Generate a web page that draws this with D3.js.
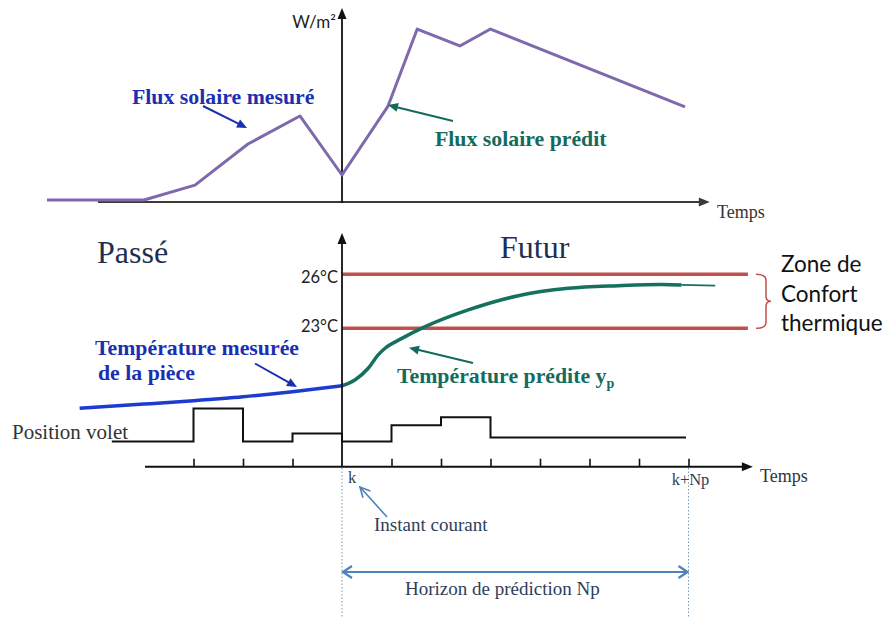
<!DOCTYPE html>
<html><head><meta charset="utf-8">
<script src="https://cdn.jsdelivr.net/npm/d3@7"></script>
<style>body{margin:0;background:#fff}svg{display:block}</style>
</head><body><svg id="c" width="891" height="617"></svg>
<script>
// ---- data ----
const solarT = [-5.96,-4,-2.97,-1.9,-0.85,0,0.93,1.52,2.38,3,6.93];
const solarFlux = [1.1,1.1,9.4,32.2,47.8,15,53.3,96.1,86.7,96.1,52.8];
const tempPastT = [-5.3,-4,-3,-2,-1,0];
const tempPast = [18.56,18.79,18.98,19.2,19.48,19.81];
const tempPredT = [0,0.26,0.53,0.73,0.87,1.21,1.68,2.55,3.56,4.57,5.58,6.46,6.86];
const tempPred = [19.81,20.13,20.78,21.52,21.89,22.44,23.09,24.02,24.81,25.22,25.37,25.44,25.41];
const tempTailT = [6.86,7.54];
const tempTail = [25.41,25.37];
const voletT = [-4.65,-3,-2,-1,0,1,2,3,6.95];
const voletPos = [11,94,11,31,11,52,72,21,21];
const comfortTemps = [26,23];
const comfortLabels = ["26°C","23°C"];
const tickSteps = [-3,-2,-1,1,2,3,4,5,6,7];
const Np = 7;
const instantT = [0, Np];
const instantLabels = ["k","k+Np"];

// ---- scales ----
const x = d3.scaleLinear().domain([0,1]).range([342,391.5]);
const ySol = d3.scaleLinear().domain([0,100]).range([202,22]);
const yT = d3.scaleLinear().domain([23,26]).range([328.3,274.3]);
const yV = d3.scaleLinear().domain([0,100]).range([446,406]);

const svg = d3.select("#c");
const SERIF = "'Liberation Serif','Times New Roman',serif";
const SANS = "Lato,'Open Sans',sans-serif";

function head(x1,y1,x2,y2,len,hw,color,filled,sw){
  const a = Math.atan2(y2-y1,x2-x1);
  const bx = x2-len*Math.cos(a), by = y2-len*Math.sin(a);
  const px = -Math.sin(a)*hw, py = Math.cos(a)*hw;
  if(filled){
    svg.append("path").attr("d",`M${x2},${y2}L${bx+px},${by+py}L${bx-px},${by-py}Z`).attr("fill",color);
  } else {
    svg.append("path").attr("d",`M${bx+px},${by+py}L${x2},${y2}L${bx-px},${by-py}`)
      .attr("fill","none").attr("stroke",color).attr("stroke-width",sw||2).attr("stroke-linejoin","miter");
  }
}
function arrow(x1,y1,x2,y2,color,sw,len,hw,filled){
  const a = Math.atan2(y2-y1,x2-x1);
  const ex = filled ? x2-(len*0.8)*Math.cos(a) : x2, ey = filled ? y2-(len*0.8)*Math.sin(a) : y2;
  svg.append("line").attr("x1",x1).attr("y1",y1).attr("x2",ex).attr("y2",ey)
    .attr("stroke",color).attr("stroke-width",sw);
  head(x1,y1,x2,y2,len,hw,color,filled,sw);
}

// ---- top panel: solar flux ----
arrow(x(-4.93), ySol(0), x(7.43), ySol(0), "#3a3a3a", 2, 11, 4.5, true);
arrow(x(0), ySol(0)+1, x(0), 8, "#111", 1.8, 11, 4.5, true);
svg.append("text").attr("x",336).attr("y",28).attr("text-anchor","end")
  .attr("font-family",SANS).attr("font-size",17).attr("fill","#222").text("W/m²");
svg.append("text").attr("x",717).attr("y",218).attr("font-family",SERIF)
  .attr("font-size",18).attr("fill","#333").text("Temps");

svg.append("path").datum(solarT.map((t,i)=>[t,solarFlux[i]]))
  .attr("d",d3.line().x(d=>x(d[0])).y(d=>ySol(d[1])))
  .attr("fill","none").attr("stroke","#7f69ad").attr("stroke-width",3).attr("stroke-linejoin","round");

svg.append("text").attr("x",132).attr("y",104).attr("font-family",SERIF).attr("font-weight","bold")
  .attr("font-size",21.8).attr("fill","#1b2fb3").text("Flux solaire mesuré");
arrow(203,106,247,128,"#1b2fb3",2,10,4.5,true);
svg.append("text").attr("x",435).attr("y",146).attr("font-family",SERIF).attr("font-weight","bold")
  .attr("font-size",21.8).attr("fill","#136b5d").text("Flux solaire prédit");
arrow(453,121,388,105,"#136b5d",2,10,4.5,true);

// ---- bottom panel ----
svg.append("text").attr("x",97).attr("y",263).attr("font-family",SERIF)
  .attr("font-size",32).attr("fill","#1f2f4f").text("Passé");
svg.append("text").attr("x",500).attr("y",257.5).attr("font-family",SERIF)
  .attr("font-size",32).attr("fill","#1f2f4f").text("Futur");

instantT.forEach(t=>{
  svg.append("line").attr("x1",x(t)).attr("x2",x(t)).attr("y1",468).attr("y2",617)
    .attr("stroke","#7a99ad").attr("stroke-width",1).attr("stroke-dasharray","1.5,2");
});

comfortTemps.forEach((c,i)=>{
  svg.append("line").attr("x1",x(0)).attr("x2",x(8.2)).attr("y1",yT(c)).attr("y2",yT(c))
    .attr("stroke","#c0504d").attr("stroke-width",3.5);
  svg.append("text").attr("x",338).attr("y",yT(c)+(i===0?8.2:3.2)).attr("text-anchor","end")
    .attr("font-family",SANS).attr("font-size",16.5).attr("fill","#222").text(comfortLabels[i]);
});
const yt = yT(26), yb = yT(23), ym = (yt+yb)/2;
svg.append("path").attr("d",`M756,${yt}Q766,${yt} 766,${yt+6}L766,${ym-5}Q766,${ym} 771,${ym}Q766,${ym} 766,${ym+5}L766,${yb-6}Q766,${yb} 756,${yb}`)
  .attr("fill","none").attr("stroke","#c0504d").attr("stroke-width",1.5);
["Zone de","Confort","thermique"].forEach((s,i)=>{
  svg.append("text").attr("x",781).attr("y",272+i*29.5).attr("font-family",SANS)
    .attr("font-size",22.5).attr("fill","#111").text(s);
});

svg.append("path").datum(tempPastT.map((t,i)=>[t,tempPast[i]]))
  .attr("d",d3.line().curve(d3.curveMonotoneX).x(d=>x(d[0])).y(d=>yT(d[1])))
  .attr("fill","none").attr("stroke","#1c3bd0").attr("stroke-width",3.5);
svg.append("path").datum(tempPredT.map((t,i)=>[t,tempPred[i]]))
  .attr("d",d3.line().curve(d3.curveMonotoneX).x(d=>x(d[0])).y(d=>yT(d[1])))
  .attr("fill","none").attr("stroke","#167060").attr("stroke-width",3.5);
svg.append("path").datum(tempTailT.map((t,i)=>[t,tempTail[i]]))
  .attr("d",d3.line().x(d=>x(d[0])).y(d=>yT(d[1])))
  .attr("fill","none").attr("stroke","#167060").attr("stroke-width",1.8);

svg.append("text").attr("x",95).attr("y",355).attr("font-family",SERIF).attr("font-weight","bold")
  .attr("font-size",21.8).attr("fill","#1b2fb3").text("Température mesurée");
svg.append("text").attr("x",98).attr("y",380).attr("font-family",SERIF).attr("font-weight","bold")
  .attr("font-size",21.8).attr("fill","#1b2fb3").text("de la pièce");
arrow(255,363.5,297,387,"#1b2fb3",2,10,4.5,true);

const tp = svg.append("text").attr("x",397).attr("y",383.3).attr("font-family",SERIF).attr("font-weight","bold")
  .attr("font-size",21.8).attr("fill","#136b5d");
tp.append("tspan").text("Température prédite y");
tp.append("tspan").attr("font-size",14).attr("dy",5).text("p");
arrow(473,363,409,347.7,"#136b5d",2,10,4.5,true);

svg.append("text").attr("x",12).attr("y",439).attr("font-family",SERIF)
  .attr("font-size",21).attr("fill","#333").text("Position volet");
svg.append("path").datum(voletT.map((t,i)=>[t,voletPos[i]]))
  .attr("d",d3.line().curve(d3.curveStepAfter).x(d=>x(d[0])).y(d=>yV(d[1])))
  .attr("fill","none").attr("stroke","#111").attr("stroke-width",2);

const yAx = 466.7;
arrow(x(-3.98), yAx, x(8.3), yAx, "#111", 2, 11, 4.5, true);
arrow(x(0), yAx, x(0), 233, "#111", 1.8, 11, 4.5, true);
const ax = svg.append("g").attr("transform",`translate(0,${yAx})`)
  .call(d3.axisTop(x).tickValues(tickSteps).tickSize(8).tickFormat(""));
ax.select(".domain").remove();
ax.selectAll("line").attr("stroke","#111").attr("stroke-width",1.6);

svg.append("text").attr("x",760).attr("y",482).attr("font-family",SERIF)
  .attr("font-size",18).attr("fill","#333").text("Temps");
svg.append("text").attr("x",x(0)+6).attr("y",483).attr("font-family",SERIF)
  .attr("font-size",16.5).attr("fill","#2d3e5a").text(instantLabels[0]);
svg.append("text").attr("x",x(Np)+2).attr("y",485).attr("text-anchor","middle").attr("font-family",SERIF)
  .attr("font-size",16.5).attr("fill","#2d3e5a").text(instantLabels[1]);

arrow(387,517,360,487,"#4f81bd",1.6,10,5,false);
svg.append("text").attr("x",374).attr("y",530.5).attr("font-family",SERIF)
  .attr("font-size",19).attr("fill","#2d3e5a").text("Instant courant");

const yH = 572;
svg.append("line").attr("x1",x(0)+1).attr("x2",x(Np)-1).attr("y1",yH).attr("y2",yH)
  .attr("stroke","#4f81bd").attr("stroke-width",2.2);
head(x(Np)-20,yH,x(Np)-1,yH,9,6,"#4f81bd",false,2.2);
head(x(0)+20,yH,x(0)+1,yH,9,6,"#4f81bd",false,2.2);
svg.append("text").attr("x",405).attr("y",595).attr("font-family",SERIF)
  .attr("font-size",19).attr("fill","#2d3e5a").text("Horizon de prédiction Np");
</script></body></html>
